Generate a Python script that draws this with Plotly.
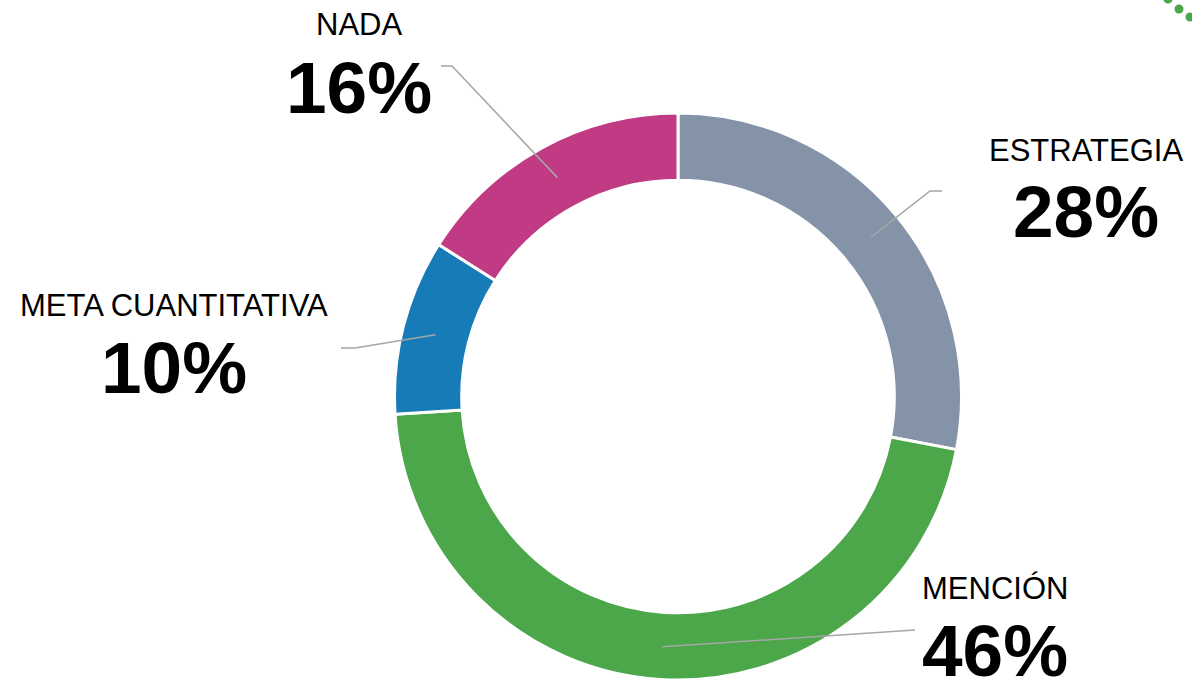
import math

import plotly.graph_objects as go

categorias = ["ESTRATEGIA", "MENCIÓN", "META CUANTITATIVA", "NADA"]
valores = [28, 46, 10, 16]
colores = ["#8593A8", "#4BA74A", "#177BB8", "#C03A84"]

W, H = 1192, 680
CX, CY = 678, 397          # centro del anillo (px)
R_OUT = 284
HOLE = 0.763
R_MID = R_OUT * (1 + HOLE) / 2

# posición de cada etiqueta: (x texto, y nombre, y porcentaje, codo, final de la guía)
_ETIQ = {
    "ESTRATEGIA": dict(x=1086, y_nom=150, y_pct=211, codo=(930, 191), fin=(942, 191)),
    "MENCIÓN": dict(x=995, y_nom=588, y_pct=650, codo=(915, 630), fin=(915, 630)),
    "META CUANTITATIVA": dict(x=174, y_nom=306, y_pct=367, codo=(355, 348), fin=(341, 348)),
    "NADA": dict(x=359, y_nom=25, y_pct=88, codo=(452, 66), fin=(441, 66)),
}

_VERDE_DEC = "#4BA74A"
_GUIA = "#A6A6A6"
_FUENTE = "Liberation Sans, Arial, sans-serif"


def px(x):
    return x / W


def py(y):
    return 1 - y / H


fig = go.Figure()
fig.add_trace(go.Pie(
    labels=categorias,
    values=valores,
    hole=HOLE,
    sort=False,
    direction="clockwise",
    rotation=0,
    marker=dict(colors=colores, line=dict(color="#ffffff", width=3)),
    textinfo="none",
    hoverinfo="label+percent",
    domain=dict(x=[px(CX - R_OUT), px(CX + R_OUT)],
                y=[max(0, py(CY + R_OUT)), py(CY - R_OUT)]),
    showlegend=False,
))

shapes = []
annotations = []
total = sum(valores)
acum = 0
for cat, val in zip(categorias, valores):
    medio = (acum + val / 2) / total * 2 * math.pi
    acum += val
    x0 = CX + R_MID * math.sin(medio)
    y0 = CY - R_MID * math.cos(medio)
    e = _ETIQ[cat]
    path = f"M {px(x0)},{py(y0)} L {px(e['codo'][0])},{py(e['codo'][1])} L {px(e['fin'][0])},{py(e['fin'][1])}"
    shapes.append(dict(type="path", xref="paper", yref="paper", path=path,
                       line=dict(color=_GUIA, width=1.5)))
    annotations.append(dict(
        x=px(e["x"]), y=py(e["y_nom"]), xref="paper", yref="paper",
        text=cat, showarrow=False, xanchor="center", yanchor="middle",
        font=dict(family=_FUENTE, size=31, color="#000000"),
    ))
    annotations.append(dict(
        x=px(e["x"]), y=py(e["y_pct"]), xref="paper", yref="paper",
        text=f"<b>{val}%</b>", showarrow=False, xanchor="center", yanchor="middle",
        font=dict(family=_FUENTE, size=73, color="#000000"),
    ))

# puntos decorativos de la esquina
for cx, cy in [(1168, -1), (1179, 9), (1190, 17)]:
    shapes.append(dict(type="circle", xref="paper", yref="paper",
                       x0=px(cx - 4.5), x1=px(cx + 4.5), y0=py(cy + 4.5), y1=py(cy - 4.5),
                       fillcolor=_VERDE_DEC, line=dict(width=0)))

fig.update_layout(
    width=W, height=H,
    margin=dict(l=0, r=0, t=0, b=0),
    paper_bgcolor="#ffffff",
    plot_bgcolor="#ffffff",
    shapes=shapes,
    annotations=annotations,
)

fig.write_html("out.html", config=dict(displayModeBar=False),
               post_script="document.body.style.margin='0';")
